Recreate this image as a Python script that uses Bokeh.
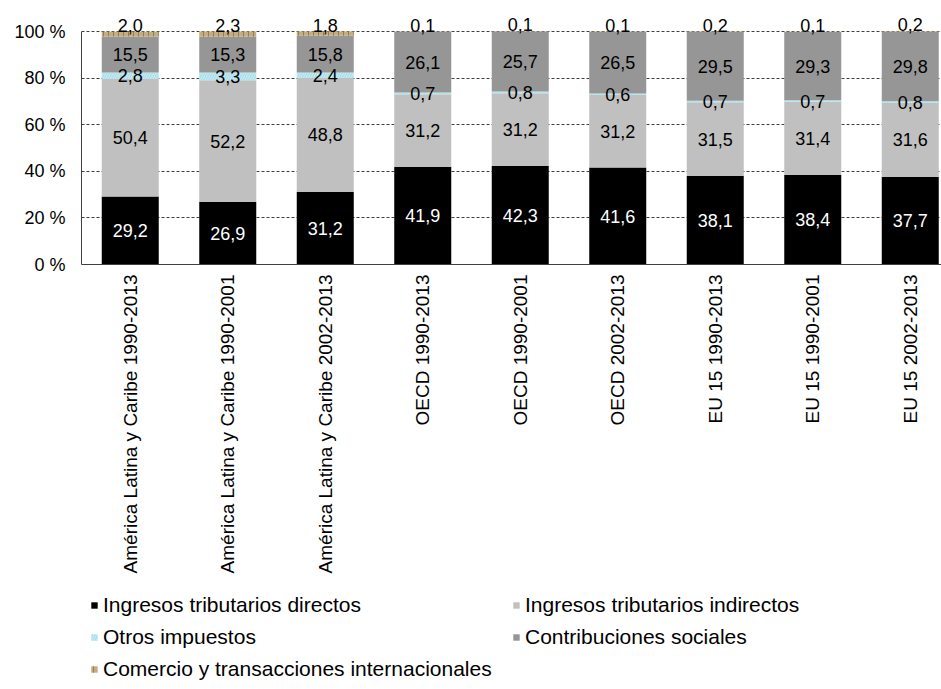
import math
from bokeh.plotting import figure
from bokeh.layouts import column
from bokeh.models import ColumnDataSource, Range1d, FixedTicker, Legend, LegendItem
from bokeh.core.properties import value
from bokeh.embed import file_html
from bokeh.resources import INLINE

# Tax structure by region and period (% of total tax revenue)
regions = [
    "América Latina y Caribe 1990-2013",
    "América Latina y Caribe 1990-2001",
    "América Latina y Caribe 2002-2013",
    "OECD 1990-2013",
    "OECD 1990-2001",
    "OECD 2002-2013",
    "EU 15 1990-2013",
    "EU 15 1990-2001",
    "EU 15 2002-2013",
]
directos = [29.2, 26.9, 31.2, 41.9, 42.3, 41.6, 38.1, 38.4, 37.7]
indirectos = [50.4, 52.2, 48.8, 31.2, 31.2, 31.2, 31.5, 31.4, 31.6]
otros = [2.8, 3.3, 2.4, 0.7, 0.8, 0.6, 0.7, 0.7, 0.8]
contribuciones = [15.5, 15.3, 15.8, 26.1, 25.7, 26.5, 29.5, 29.3, 29.8]
comercio = [2.0, 2.3, 1.8, 0.1, 0.1, 0.1, 0.2, 0.1, 0.2]

series_names = [
    "Ingresos tributarios directos",
    "Ingresos tributarios indirectos",
    "Otros impuestos",
    "Contribuciones sociales",
    "Comercio y transacciones internacionales",
]
series_values = [directos, indirectos, otros, contribuciones, comercio]
y_ticks = [0, 20, 40, 60, 80, 100]
y_tick_labels = ["0 %", "20 %", "40 %", "60 %", "80 %", "100 %"]

FONT = "Liberation Sans"
fills = ["#000000", "#c0c0c0", "#a9dfea", "#969696", "#c4ad80"]
hatches = [None, None, "/", None, "|"]
hatch_colors = [None, None, "#d4f1f6", None, "#8a7246"]
label_colors = ["white", "black", "black", "black", "black"]


def style_kw(k):
    kw = dict(fill_color=fills[k], line_color=None)
    if hatches[k]:
        kw.update(hatch_pattern=hatches[k], hatch_color=hatch_colors[k],
                  hatch_scale=5, hatch_weight=1, hatch_alpha=0.8)
    return kw


xs = [i + 0.5 for i in range(len(regions))]
slot_px = 97.5
px_per_unit = 2.33

p = figure(
    width=941, height=590,
    output_backend="svg", toolbar_location=None,
    x_range=Range1d(0, 860 / slot_px),
    y_range=Range1d(0, 264 / px_per_unit),
    min_border_left=81, min_border_right=0,
    min_border_top=0, min_border_bottom=326,
)
p.outline_line_color = None
p.background_fill_color = "white"
p.border_fill_color = "white"

# stacked segments
bottoms = [0.0] * len(regions)
label_x, label_y, label_txt, label_col, label_base = [], [], [], [], []
for k, (name, vals) in enumerate(zip(series_names, series_values)):
    tops = [b + v for b, v in zip(bottoms, vals)]
    src = ColumnDataSource(dict(x=xs, bottom=bottoms, top=tops))
    p.vbar(x="x", width=57 / slot_px, bottom="bottom", top="top", source=src, **style_kw(k))
    for xi, b, t, v in zip(xs, bottoms, tops, vals):
        label_x.append(xi)
        label_txt.append(f"{v:.1f}".replace(".", ","))
        label_col.append(label_colors[k])
        if k == len(series_names) - 1:
            label_y.append(t)
            label_base.append("bottom")
        else:
            label_y.append((b + t) / 2)
            label_base.append("middle")
    bottoms = tops

lab_src = ColumnDataSource(dict(x=label_x, y=label_y, text=label_txt,
                                color=label_col, base=label_base))
p.text(x="x", y="y", text="text", source=lab_src, text_align="center",
       text_baseline="base", text_color="color",
       text_font=value(FONT), text_font_size="18px")

# axes
p.xaxis.ticker = FixedTicker(ticks=xs)
p.xaxis.major_label_overrides = {xv: name for xv, name in zip(xs, regions)}
p.xaxis.major_label_orientation = math.pi / 2
p.xaxis.major_tick_out = 0
p.xaxis.major_tick_in = 0
p.xaxis.minor_tick_out = 0
p.xaxis.major_label_standoff = 10
p.xaxis.axis_line_color = "#404040"
p.xaxis.major_label_text_font = FONT
p.xaxis.major_label_text_font_size = "19px"
p.xaxis.major_label_text_color = "black"

p.yaxis.ticker = FixedTicker(ticks=y_ticks)
p.yaxis.major_label_overrides = {t: s for t, s in zip(y_ticks, y_tick_labels)}
p.yaxis.bounds = (0, 100)
p.yaxis.major_tick_out = 0
p.yaxis.major_tick_in = 0
p.yaxis.minor_tick_out = 0
p.yaxis.minor_tick_in = 0
p.yaxis.major_label_standoff = 16
p.yaxis.axis_line_color = "#404040"
p.yaxis.major_label_text_font = FONT
p.yaxis.major_label_text_font_size = "18px"
p.yaxis.major_label_text_color = "black"

p.xgrid.visible = False
p.ygrid.ticker = FixedTicker(ticks=y_ticks[1:])
p.ygrid.grid_line_color = "#404040"
p.ygrid.grid_line_dash = "3 2"
p.ygrid.grid_line_width = 1

# legend strip below the chart (frame aligned with the chart's frame)
lg = figure(
    width=941, height=99,
    output_backend="svg", toolbar_location=None,
    x_range=Range1d(0, 1), y_range=Range1d(0, 1),
    x_axis_type=None, y_axis_type=None,
    min_border_left=0, min_border_right=0, min_border_top=0, min_border_bottom=0,
)
lg.outline_line_color = None
lg.grid.visible = False
# zero-height swatch renderers that only feed the legend keys
swatches = [lg.vbar(x=[0], bottom=[0], top=[0], width=0, **style_kw(k))
            for k in range(len(series_names))]


def make_legend(idx, loc):
    return Legend(
        items=[LegendItem(label=series_names[i], renderers=[swatches[i]]) for i in idx],
        location=loc, orientation="vertical",
        glyph_width=8, glyph_height=8, label_standoff=5, spacing=8,
        padding=0, margin=0, border_line_color=None, background_fill_alpha=0,
        label_text_font=FONT, label_text_font_size="21px", label_height=24,
        label_text_color="black",
    )


lg.add_layout(make_legend([0, 2, 4], (9, 8)))
lg.add_layout(make_legend([1, 3], (431, 40)))

open("out.html", "w").write(file_html(column(p, lg, spacing=0), INLINE))
